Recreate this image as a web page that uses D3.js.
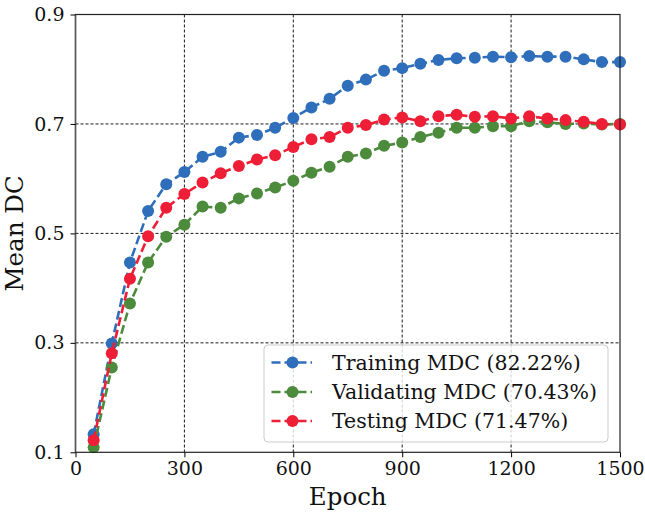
<!DOCTYPE html>
<html><head><meta charset="utf-8">
<script src="https://cdn.jsdelivr.net/npm/d3@7"></script>
<style>body{margin:0;background:#fff}svg{display:block}</style>
</head><body>
<script>
const epochs = [50,100,150,200,250,300,350,400,450,500,550,600,650,700,750,800,850,900,950,1000,1050,1100,1150,1200,1250,1300,1350,1400,1450,1500];
const training = [0.133,0.299,0.447,0.541,0.590,0.612,0.640,0.649,0.675,0.680,0.693,0.711,0.730,0.746,0.770,0.781,0.797,0.802,0.810,0.817,0.820,0.821,0.823,0.822,0.824,0.823,0.823,0.818,0.813,0.813];
const validating = [0.109,0.255,0.372,0.447,0.494,0.516,0.549,0.547,0.564,0.573,0.584,0.596,0.611,0.622,0.640,0.646,0.660,0.666,0.676,0.684,0.693,0.693,0.696,0.696,0.705,0.703,0.700,0.701,0.699,0.700];
const testing = [0.122,0.281,0.417,0.495,0.547,0.572,0.593,0.610,0.623,0.635,0.643,0.658,0.672,0.676,0.693,0.698,0.708,0.712,0.705,0.714,0.717,0.713,0.714,0.710,0.714,0.710,0.707,0.704,0.700,0.699];
const xTicks = [0,300,600,900,1200,1500];
const yTicks = [0.1,0.3,0.5,0.7,0.9];
const seriesNames = ["Training MDC (82.22%)","Validating MDC (70.43%)","Testing MDC (71.47%)"];
const seriesColors = ["#2F6EBA","#4B8B3B","#EE1E36"];
const seriesValues = [training, validating, testing];

const W = 645, H = 515;
const m = {left:75.5, right:620, top:14.5, bottom:452.3};
const svg = d3.select("body").append("svg").attr("width",W).attr("height",H);
const x = d3.scaleLinear().domain([0,1500]).range([m.left,m.right]);
const y = d3.scaleLinear().domain([0.1,0.9]).range([m.bottom,m.top]);
const font = "'DejaVu Serif', serif";

// grid
const grid = svg.append("g");
grid.selectAll("line.gx").data(xTicks.slice(1,-1)).enter().append("line")
  .attr("x1",d=>x(d)).attr("x2",d=>x(d)).attr("y1",m.top).attr("y2",m.bottom)
  .attr("stroke","#000").attr("stroke-width",0.9).attr("stroke-dasharray","3,2");
grid.selectAll("line.gy").data(yTicks.slice(1,-1)).enter().append("line")
  .attr("y1",d=>y(d)).attr("y2",d=>y(d)).attr("x1",m.left).attr("x2",m.right)
  .attr("stroke","#000").attr("stroke-width",0.9).attr("stroke-dasharray","3,2");

// series
const line = d3.line().x(d=>x(d[0])).y(d=>y(d[1]));
seriesValues.forEach((vals,i)=>{
  const pts = epochs.map((e,j)=>[e,vals[j]]);
  const g = svg.append("g");
  g.append("path").attr("d",line(pts)).attr("fill","none")
    .attr("stroke",seriesColors[i]).attr("stroke-width",2.6).attr("stroke-dasharray","9,4");
  g.selectAll("circle").data(pts).enter().append("circle")
    .attr("cx",d=>x(d[0])).attr("cy",d=>y(d[1])).attr("r",6)
    .attr("fill",seriesColors[i]);
});

// spines
svg.append("rect").attr("x",m.left).attr("y",m.top).attr("width",m.right-m.left).attr("height",m.bottom-m.top)
  .attr("fill","none").attr("stroke","#222").attr("stroke-width",1.2);
svg.append("line").attr("x1",m.left).attr("x2",m.left).attr("y1",m.top).attr("y2",m.bottom)
  .attr("stroke","#555").attr("stroke-width",1.5);

// axes
const xAxis = svg.append("g").attr("transform",`translate(0,${m.bottom})`)
  .call(d3.axisBottom(x).tickValues(xTicks).tickFormat(d3.format("d")).tickSize(5).tickPadding(4));
const yAxis = svg.append("g").attr("transform",`translate(${m.left},0)`)
  .call(d3.axisLeft(y).tickValues(yTicks).tickFormat(d3.format(".1f")).tickSize(5).tickPadding(6));
[xAxis,yAxis].forEach(a=>{
  a.select(".domain").remove();
  a.selectAll("line").attr("stroke","#000").attr("stroke-width",1);
  a.selectAll("text").attr("font-family",font).attr("font-size",19).attr("fill","#111");
});

// axis labels
svg.append("text").attr("x",(m.left+m.right)/2).attr("y",505).attr("text-anchor","middle")
  .attr("font-family",font).attr("font-size",24.5).attr("fill","#111").text("Epoch");
svg.append("text").attr("transform",`translate(23,${(m.top+m.bottom)/2}) rotate(-90)`).attr("text-anchor","middle")
  .attr("font-family",font).attr("font-size",24.5).attr("fill","#111").text("Mean DC");

// legend
const lg = svg.append("g");
lg.append("rect").attr("x",264).attr("y",345).attr("width",344).attr("height",97).attr("rx",4)
  .attr("fill","#fff").attr("fill-opacity",0.8).attr("stroke","#ccc").attr("stroke-width",1);
const rowsY = [362.5,392,421];
seriesNames.forEach((n,i)=>{
  const r = lg.append("g");
  r.append("line").attr("x1",271.5).attr("x2",312).attr("y1",rowsY[i]).attr("y2",rowsY[i])
    .attr("stroke",seriesColors[i]).attr("stroke-width",2.6).attr("stroke-dasharray","9,4");
  r.append("circle").attr("cx",292.5).attr("cy",rowsY[i]).attr("r",6).attr("fill",seriesColors[i]);
  r.append("text").attr("x",332).attr("y",rowsY[i]).attr("dy","0.35em")
    .attr("font-family",font).attr("font-size",20.5).attr("fill","#111").text(n);
});
</script>
</body></html>
